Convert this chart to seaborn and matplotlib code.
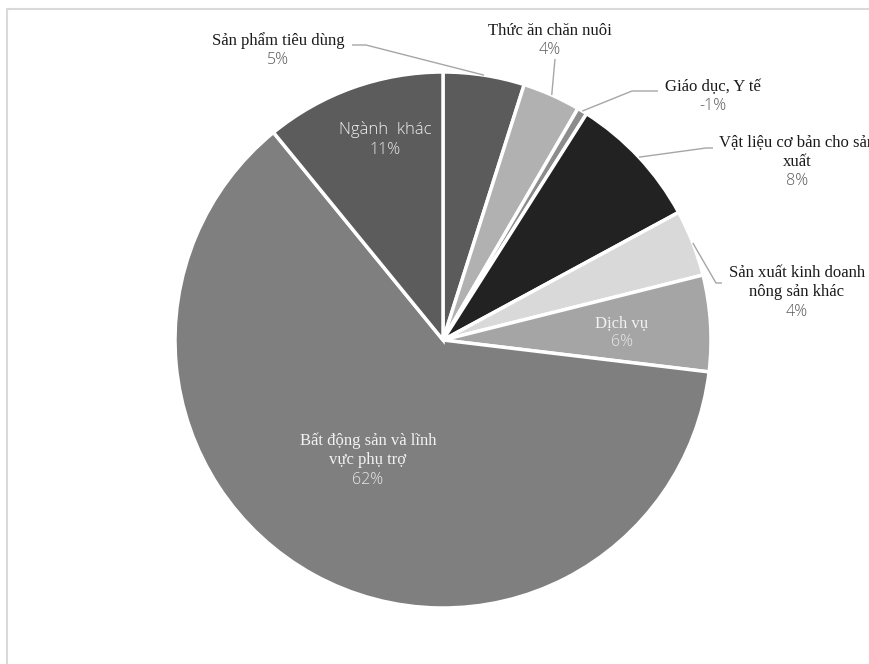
import numpy as np
import pandas as pd
import seaborn as sns
import matplotlib.pyplot as plt

# data (slice sizes, label text as printed)
sectors = ["Sản phẩm tiêu dùng", "Thức ăn chăn nuôi", "Giáo dục, Y tế",
           "Vật liệu cơ bản cho sản\nxuất", "Sản xuất kinh doanh\nnông sản khác",
           "Dịch vụ", "Bất động sản và lĩnh\nvực phụ trợ", "Ngành  khác"]
shares = [4.9, 3.5, 0.6, 8.1, 4.0, 5.8, 62.2, 10.9]
pct_labels = ["5%", "4%", "-1%", "8%", "4%", "6%", "62%", "11%"]

df = pd.DataFrame({"sector": sectors, "share": shares, "pct": pct_labels})

# styling / layout
sns.set_style("white")
greys = sns.color_palette(["#5b5b5b", "#b1b1b1", "#8c8c8c", "#222222",
                           "#d9d9d9", "#a5a5a5", "#7f7f7f", "#5c5c5c"])
serif = ["Liberation Serif", "DejaVu Serif"]
sans = ["Open Sans", "DejaVu Sans"]

fig = plt.figure(figsize=(8.7, 6.64), dpi=100)
ax = fig.add_axes([0, 0, 1, 1])

cx, cy, r = 443, 340, 268
wedges, _ = ax.pie(df["share"], colors=greys, startangle=-90, counterclock=True,
                   center=(cx, cy), radius=r,
                   wedgeprops=dict(edgecolor="white", linewidth=2.5))
ax.set_xlim(0, 870)
ax.set_ylim(664, 0)
ax.set_aspect("auto")
ax.axis("off")

# outer chart frame (left/top visible, rest cut off)
ax.plot([7.5, 7.5, 900], [700, 8.5, 8.5], color="#d9d9d9", lw=1.5, clip_on=False)

# label placement: (x, y of first line, inside?, leader path)
layout = [
    (278, 41, False, [(366, 45), (352, 45)]),
    (550, 31, False, [(555, 59)]),
    (713, 87, False, [(632, 91), (658, 91)]),
    (797, 142, False, [(706, 148), (713, 148)]),
    (797, 273, False, [(716, 283), (722, 283)]),
    (622, 323, True, None),
    (368, 441, True, None),
    (385, 130, True, None),
]

line_h = 19.5
for w, (name, pct), (tx, ty, inside, path) in zip(wedges, zip(df["sector"], df["pct"]), layout):
    name_col = "#f2f2f2" if inside else "#1a1a1a"
    pct_col = "#e8e8e8" if inside else "#595959"
    name_font = sans if name.startswith("Ngành") else serif
    lines = name.split("\n")
    for i, line in enumerate(lines):
        ax.text(tx, ty + line_h * i, line, ha="center", va="center",
                fontsize=12, color=name_col, family=name_font,
                fontweight="light" if name_font is sans else "normal")
    ax.text(tx, ty + line_h * len(lines), pct, ha="center", va="center", fontsize=11.5,
            color=pct_col, family=sans, fontweight="light")
    if path:
        mid = np.deg2rad((w.theta1 + w.theta2) / 2)
        ex, ey = cx + r * np.cos(mid), cy + r * np.sin(mid)
        xs = [ex] + [p[0] for p in path]
        ys = [ey] + [p[1] for p in path]
        ax.plot(xs, ys, color="#a6a6a6", lw=1, solid_capstyle="butt")

fig.savefig("out.png", dpi=100, facecolor="white")
